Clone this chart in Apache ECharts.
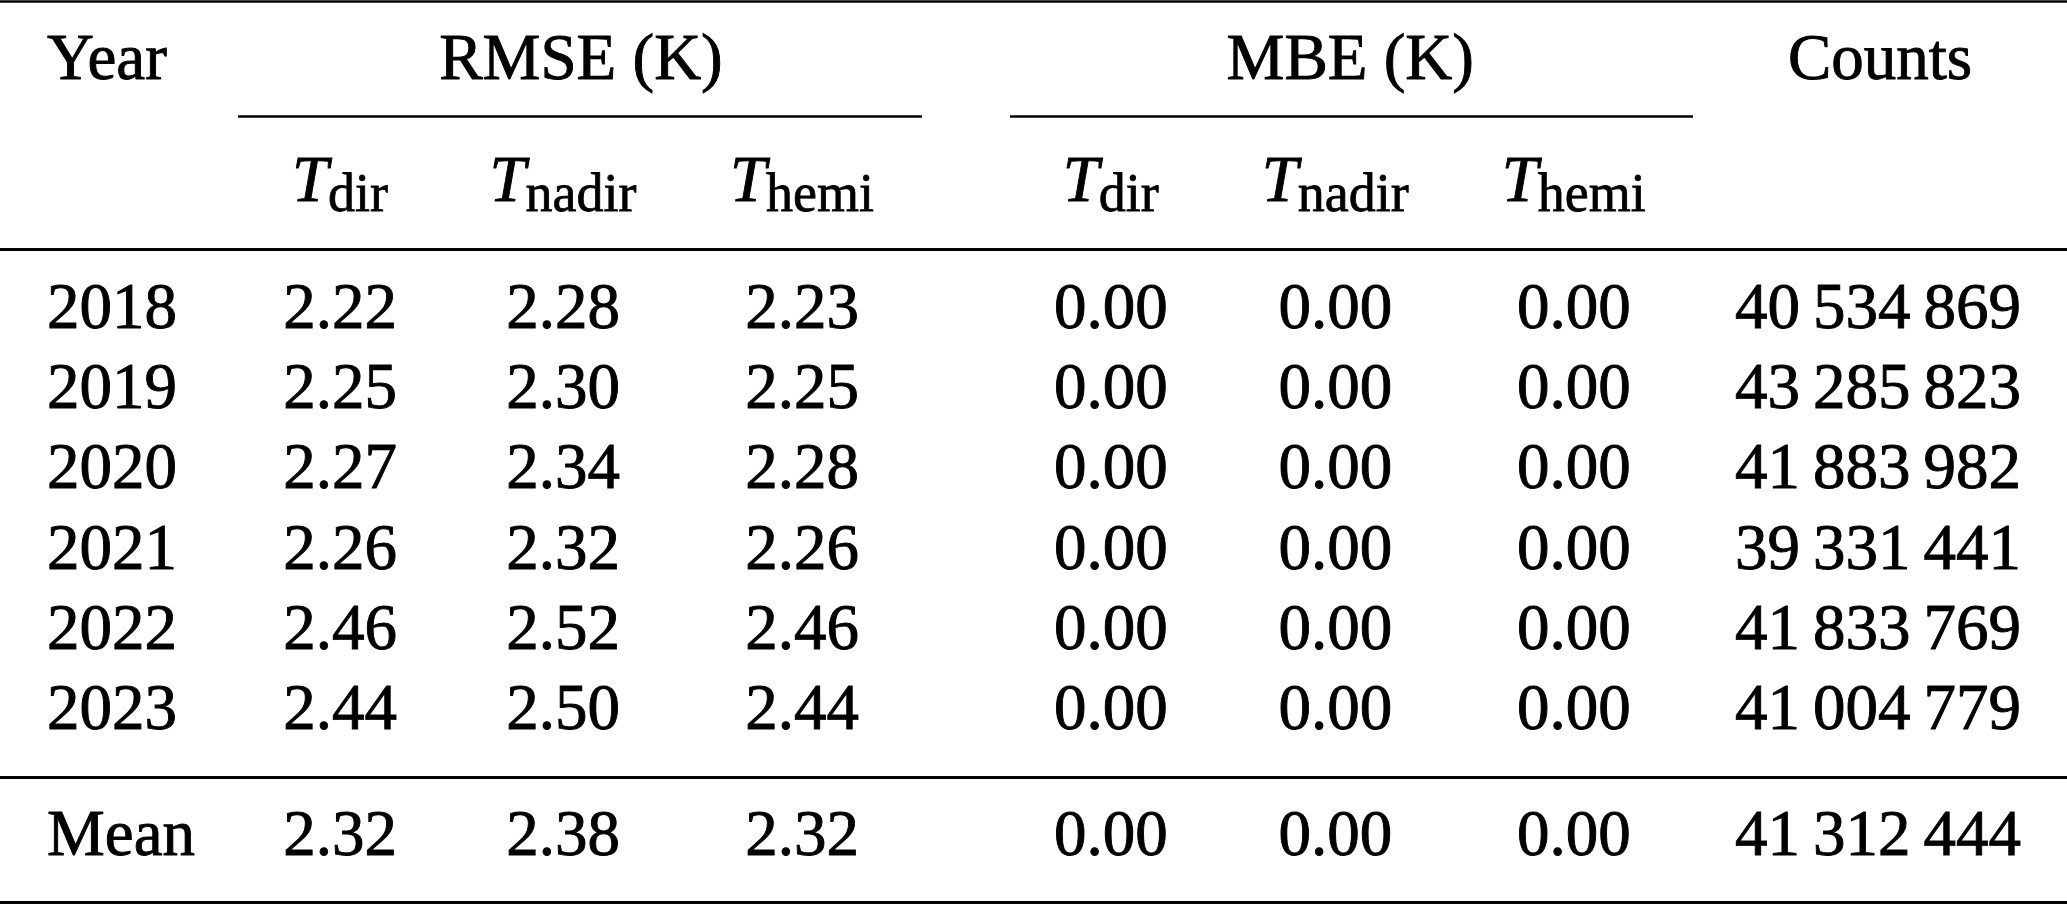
<!DOCTYPE html>
<html>
<head>
<meta charset="utf-8">
<script src="https://cdn.jsdelivr.net/npm/echarts@6/dist/echarts.min.js"></script>
<style>
html,body{margin:0;padding:0;background:#fff;}
#chart{width:2067px;height:905px;}
</style>
</head>
<body>
<div id="chart"></div>
<script>
// ---------------- DATA ----------------
const years = ['2018', '2019', '2020', '2021', '2022', '2023'];
const rmseDir   = [2.22, 2.25, 2.27, 2.26, 2.46, 2.44];
const rmseNadir = [2.28, 2.30, 2.34, 2.32, 2.52, 2.50];
const rmseHemi  = [2.23, 2.25, 2.28, 2.26, 2.46, 2.44];
const mbeDir    = [0.00, 0.00, 0.00, 0.00, 0.00, 0.00];
const mbeNadir  = [0.00, 0.00, 0.00, 0.00, 0.00, 0.00];
const mbeHemi   = [0.00, 0.00, 0.00, 0.00, 0.00, 0.00];
const counts    = [40534869, 43285823, 41883982, 39331441, 41833769, 41004779];
const meanLabel = 'Mean';
const meanRmse  = [2.32, 2.38, 2.32];
const meanMbe   = [0.00, 0.00, 0.00];
const meanCount = 41312444;
const yearHeader = 'Year';
const groupHeaders = ['RMSE (K)', 'MBE (K)'];
const countsHeader = 'Counts';
const subHeaders = ['dir', 'nadir', 'hemi'];

// ---------------- LAYOUT / STYLE ----------------
const FONT = 'Liberation Serif';
const FS = 65;
const SUBFS = 54;
const W = 2067;
const INK = '#000';
const WEIGHT = 0.9; // light stroke to mimic the slightly heavier print-style glyphs

// colNudge: small horizontal label nudges so unequal LaTeX column widths are mimicked
const colGroups = [
  { key: 'year',   cols: ['year'], left: 45, width: 4, align: 'left', colNudge: [0], headNudge: 0 },
  { key: 'rmse',   cols: ['rd', 'rn', 'rh'], left: 224.5, width: 693, align: 'center', colNudge: [0, -8, 0], headNudge: 10 },
  { key: 'mbe',    cols: ['md', 'mn', 'mh'], left: 995, width: 694.5, align: 'center', colNudge: [0, -7, 0], headNudge: 8 },
  { key: 'counts', cols: ['cnt'], left: 1727, width: 300, align: 'center', colNudge: [1], headNudge: 3 }
];
const rowGroups = [
  { key: 'head', rows: ['h1', 'h2'], top: 1.5, height: 243 },
  { key: 'body', rows: years, top: 271, height: 481 },
  { key: 'mean', rows: [meanLabel], top: 798, height: 80 }
];

function fmt2(v) { return v.toFixed(2); }
function fmtCount(v) {
  return String(v).replace(/\B(?=(\d{3})+(?!\d))/g, '\u2009');
}

function cell(cg, ci, row, text, isGroupHead) {
  const nudge = isGroupHead ? cg.headNudge : cg.colNudge[ci];
  return { value: [cg.cols[ci], row, text], label: { offset: [nudge, 0] } };
}

// cell texts per row group / column group
function cellsFor(rg, cg) {
  const out = [];
  if (rg.key === 'head') {
    if (cg.key === 'year') out.push(cell(cg, 0, 'h1', yearHeader));
    if (cg.key === 'rmse' || cg.key === 'mbe') {
      out.push(cell(cg, 1, 'h1', groupHeaders[cg.key === 'rmse' ? 0 : 1], true));
      cg.cols.forEach((c, i) => out.push(cell(cg, i, 'h2', '{t|T}{s|' + subHeaders[i] + '}')));
    }
    if (cg.key === 'counts') out.push(cell(cg, 0, 'h1', countsHeader, true));
  } else if (rg.key === 'body') {
    years.forEach((y, i) => {
      if (cg.key === 'year') out.push(cell(cg, 0, y, y));
      if (cg.key === 'rmse') {
        out.push(cell(cg, 0, y, fmt2(rmseDir[i])));
        out.push(cell(cg, 1, y, fmt2(rmseNadir[i])));
        out.push(cell(cg, 2, y, fmt2(rmseHemi[i])));
      }
      if (cg.key === 'mbe') {
        out.push(cell(cg, 0, y, fmt2(mbeDir[i])));
        out.push(cell(cg, 1, y, fmt2(mbeNadir[i])));
        out.push(cell(cg, 2, y, fmt2(mbeHemi[i])));
      }
      if (cg.key === 'counts') out.push(cell(cg, 0, y, fmtCount(counts[i])));
    });
  } else {
    const m = meanLabel;
    if (cg.key === 'year') out.push(cell(cg, 0, m, meanLabel));
    if (cg.key === 'rmse') cg.cols.forEach((c, i) => out.push(cell(cg, i, m, fmt2(meanRmse[i]))));
    if (cg.key === 'mbe') cg.cols.forEach((c, i) => out.push(cell(cg, i, m, fmt2(meanMbe[i]))));
    if (cg.key === 'counts') out.push(cell(cg, 0, m, fmtCount(meanCount)));
  }
  return out;
}

const grid = [], xAxis = [], yAxis = [], series = [];
let gi = 0;
rowGroups.forEach(rg => {
  colGroups.forEach(cg => {
    grid.push({ left: cg.left, width: cg.width, top: rg.top, height: rg.height, containLabel: false });
    xAxis.push({ type: 'category', gridIndex: gi, data: cg.cols, show: false, boundaryGap: true });
    yAxis.push({ type: 'category', gridIndex: gi, data: rg.rows, inverse: true, show: false, boundaryGap: true });
    series.push({
      type: 'scatter',
      xAxisIndex: gi, yAxisIndex: gi,
      symbolSize: 0,
      silent: true,
      animation: false,
      itemStyle: { color: INK },
      data: cellsFor(rg, cg),
      label: {
        show: true,
        position: 'inside',
        align: cg.align,
        verticalAlign: 'middle',
        formatter: p => p.value[2],
        fontFamily: FONT,
        fontSize: FS,
        color: INK,
        opacity: 1,
        textBorderColor: INK,
        textBorderWidth: WEIGHT,
        rich: {
          t: { fontFamily: FONT, fontSize: FS, fontStyle: 'italic', color: INK, textBorderColor: INK, textBorderWidth: WEIGHT, lineHeight: 80, verticalAlign: 'middle' },
          s: { fontFamily: FONT, fontSize: SUBFS, color: INK, textBorderColor: INK, textBorderWidth: WEIGHT * 0.85, lineHeight: 44, verticalAlign: 'bottom' }
        }
      }
    });
    gi++;
  });
});

// horizontal rules (booktabs style)
const rules = [
  { x1: 0, x2: W, y: 1.5, w: 2.6 },
  { x1: 238, x2: 922, y: 116.5, w: 2.4 },
  { x1: 1010, x2: 1693, y: 116.5, w: 2.4 },
  { x1: 0, x2: W, y: 249.5, w: 3 },
  { x1: 0, x2: W, y: 777.5, w: 3 },
  { x1: 0, x2: W, y: 902.5, w: 3 }
];

const chart = echarts.init(document.getElementById('chart'), null, { renderer: 'canvas' });
chart.setOption({
  backgroundColor: '#fff',
  animation: false,
  grid, xAxis, yAxis, series,
  graphic: rules.map(r => ({
    type: 'line', silent: true,
    shape: { x1: r.x1, y1: r.y, x2: r.x2, y2: r.y },
    style: { stroke: INK, lineWidth: r.w }
  }))
});
</script>
</body>
</html>
